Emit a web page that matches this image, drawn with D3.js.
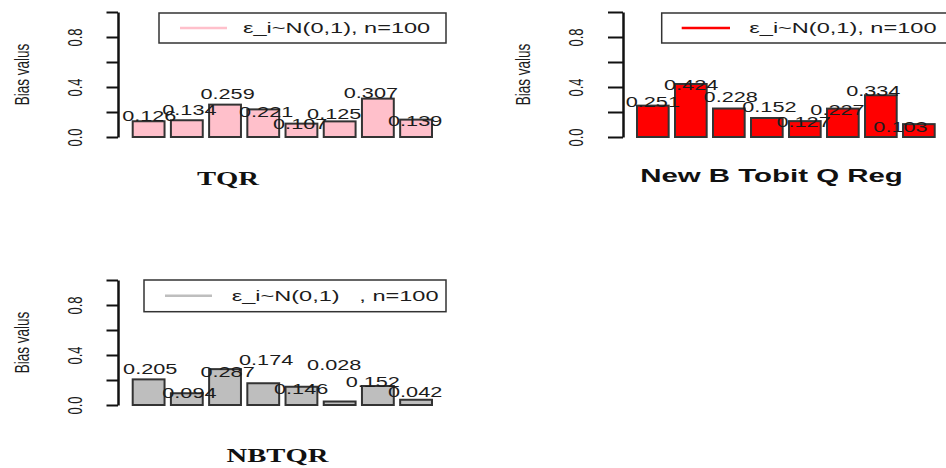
<!DOCTYPE html>
<html>
<head>
<meta charset="utf-8">
<script src="https://cdn.jsdelivr.net/npm/d3@7"></script>
<style>
  html, body { margin: 0; padding: 0; background: #fff; }
  svg { display: block; }
  text { white-space: pre; }
</style>
</head>
<body>
<script>
// ---------------- data ----------------
const barIndex = [1, 2, 3, 4, 5, 6, 7, 8];
const tqrBias   = [0.126, 0.134, 0.259, 0.221, 0.107, 0.125, 0.307, 0.139];
const newBBias  = [0.251, 0.424, 0.228, 0.152, 0.127, 0.227, 0.334, 0.103];
const nbtqrBias = [0.205, 0.094, 0.287, 0.174, 0.146, 0.028, 0.152, 0.042];
// text annotation coordinates (barplot data units, as in text(x, y, labels))
const tqrLabelX   = [0.72, 1.98, 3.18, 4.39, 5.46, 6.53, 7.68, 9.07];
const tqrLabelY   = [0.170, 0.216, 0.342, 0.198, 0.102, 0.186, 0.350, 0.126];
const newBLabelX  = [0.70, 1.91, 3.16, 4.38, 5.46, 6.53, 7.66, 8.52];
const newBLabelY  = [0.278, 0.416, 0.323, 0.238, 0.117, 0.216, 0.370, 0.082];
const nbtqrLabelX = [0.75, 1.98, 3.18, 4.39, 5.49, 6.53, 7.74, 9.07];
const nbtqrLabelY = [0.286, 0.094, 0.267, 0.360, 0.125, 0.320, 0.187, 0.107];
const yTicks = [0, 0.2, 0.4, 0.6, 0.8, 1.0];
const yTickLabels = ["0.0", "", "0.4", "", "0.8", ""];
const yLabel = "Bias valus";
const titles = ["TQR", "New B Tobit Q Reg", "NBTQR"];
const legendTexts = ["ε_i~N(0,1), n=100", "ε_i~N(0,1), n=100", "ε_i~N(0,1)   , n=100"];
const colors = ["#FFC0CB", "#FF0000", "#BEBEBE"];

// ---------------- layout ----------------
const W = 946, H = 468;
const S = 1.55; // horizontal glyph stretch of the reference raster
const ink = "#1c1c1c";
const panels = [
  { vals: tqrBias, lx: tqrLabelX, ly: tqrLabelY, title: titles[0], serif: true, color: colors[0], legend: legendTexts[0],
    axisX: 118, y0: 137, y1: 12, barL: 132.7, barR: 432, tickLen: 11.5, tickLabX: 75, ylabX: 21,
    titleX: 228, titleY: 185, lg: { x0: 159, x1: 446, y0: 13, y1: 43, l0: 180, l1: 227, tx: 243 } },
  { vals: newBBias, lx: newBLabelX, ly: newBLabelY, title: titles[1], serif: false, color: colors[1], legend: legendTexts[1],
    axisX: 623, y0: 137, y1: 12, barL: 637, barR: 934.7, tickLen: 15, tickLabX: 576, ylabX: 522.5,
    titleX: 771.5, titleY: 182, lg: { x0: 661.7, x1: 980, y0: 13, y1: 43, l0: 681.7, l1: 730, tx: 749.3 } },
  { vals: nbtqrBias, lx: nbtqrLabelX, ly: nbtqrLabelY, title: titles[2], serif: true, color: colors[2], legend: legendTexts[2],
    axisX: 118, y0: 405, y1: 280, barL: 132.7, barR: 432, tickLen: 11.5, tickLabX: 75, ylabX: 21,
    titleX: 277.5, titleY: 462, lg: { x0: 144, x1: 446, y0: 280, y1: 311.7, l0: 165, l1: 212, tx: 231.7 } }
];

const svg = d3.select("body").append("svg").attr("width", W).attr("height", H);
const defs = svg.append("defs");

function place(sel, x, y, rot) {
  sel.attr("x", 0).attr("y", 0)
     .attr("transform", `translate(${x},${y}) scale(${S},1)` + (rot ? " rotate(-90)" : ""));
}

panels.forEach((p, pi) => {
  const g = svg.append("g");
  const x = d3.scaleLinear().domain([0.2, 9.6]).range([p.barL, p.barR]);
  const y = d3.scaleLinear().domain([0, 1]).range([p.y0, p.y1]);

  // bars
  g.selectAll("rect.bar").data(p.vals).join("rect")
    .attr("class", "bar")
    .attr("x", (d, i) => x(0.2 + 1.2 * i))
    .attr("width", (d, i) => x(1.2 + 1.2 * i) - x(0.2 + 1.2 * i))
    .attr("y", d => y(d))
    .attr("height", d => y(0) - y(d))
    .attr("fill", p.color)
    .attr("stroke", "#333")
    .attr("stroke-width", 2);

  // value labels (clipped to plot region)
  const cid = "clip" + pi;
  defs.append("clipPath").attr("id", cid).append("rect")
    .attr("x", p.axisX).attr("y", 0).attr("width", 400).attr("height", H);
  const lab = g.append("g").attr("clip-path", `url(#${cid})`);
  lab.selectAll("text").data(p.vals).join("text")
    .text(d => d3.format(".3f")(d))
    .attr("font-family", "Liberation Sans, Arial, sans-serif")
    .attr("font-size", 14)
    .attr("fill", ink)
    .attr("text-anchor", "middle")
    .attr("dy", "0.36em")
    .each(function (d, i) { place(d3.select(this), x(p.lx[i]), y(p.ly[i]), false); });

  // y axis
  const axis = d3.axisLeft(y).tickValues(yTicks).tickSize(p.tickLen).tickSizeOuter(0)
    .tickFormat((d, i) => yTickLabels[i]);
  const ag = g.append("g").attr("transform", `translate(${p.axisX},0)`).call(axis);
  ag.select(".domain").attr("stroke", "#111").attr("stroke-width", 2.5);
  ag.selectAll(".tick line").attr("stroke", "#111").attr("stroke-width", 2);
  ag.selectAll(".tick text")
    .attr("font-family", "Liberation Sans, Arial, sans-serif")
    .attr("font-size", 13)
    .attr("fill", ink)
    .attr("text-anchor", "middle")
    .attr("dy", "0.36em")
    .each(function () {
      const t = d3.select(this);
      t.attr("x", 0).attr("y", 0)
       .attr("transform", `translate(${p.tickLabX - p.axisX},0) scale(${S},1) rotate(-90)`);
    });

  // y label
  g.append("text").text(yLabel)
    .attr("font-family", "Liberation Sans, Arial, sans-serif")
    .attr("font-size", 13.5)
    .attr("fill", ink)
    .attr("text-anchor", "middle")
    .attr("dy", "0.36em")
    .call(s => place(s, p.ylabX, (p.y0 + p.y1) / 2, true));

  // title (x label)
  g.append("text").text(p.title)
    .attr("font-family", p.serif ? "Liberation Serif, Times New Roman, serif" : "Liberation Sans, Arial, sans-serif")
    .attr("font-weight", "bold")
    .attr("font-size", p.serif ? 18.5 : 19)
    .attr("fill", "#111")
    .attr("text-anchor", "middle")
    .call(s => place(s, p.titleX, p.titleY, false));

  // legend
  const L = p.lg;
  g.append("rect").attr("x", L.x0).attr("y", L.y0)
    .attr("width", L.x1 - L.x0).attr("height", L.y1 - L.y0)
    .attr("fill", "#fff").attr("stroke", "#333").attr("stroke-width", 1.5);
  const ly = (L.y0 + L.y1) / 2;
  g.append("line").attr("x1", L.l0).attr("x2", L.l1).attr("y1", ly).attr("y2", ly)
    .attr("stroke", p.color).attr("stroke-width", 2.5);
  g.append("text").text(p.legend)
    .attr("font-family", "Liberation Sans, Arial, sans-serif")
    .attr("font-size", 15.2)
    .attr("fill", ink)
    .attr("dy", "0.36em")
    .call(s => place(s, L.tx, ly, false));
});
</script>
</body>
</html>
